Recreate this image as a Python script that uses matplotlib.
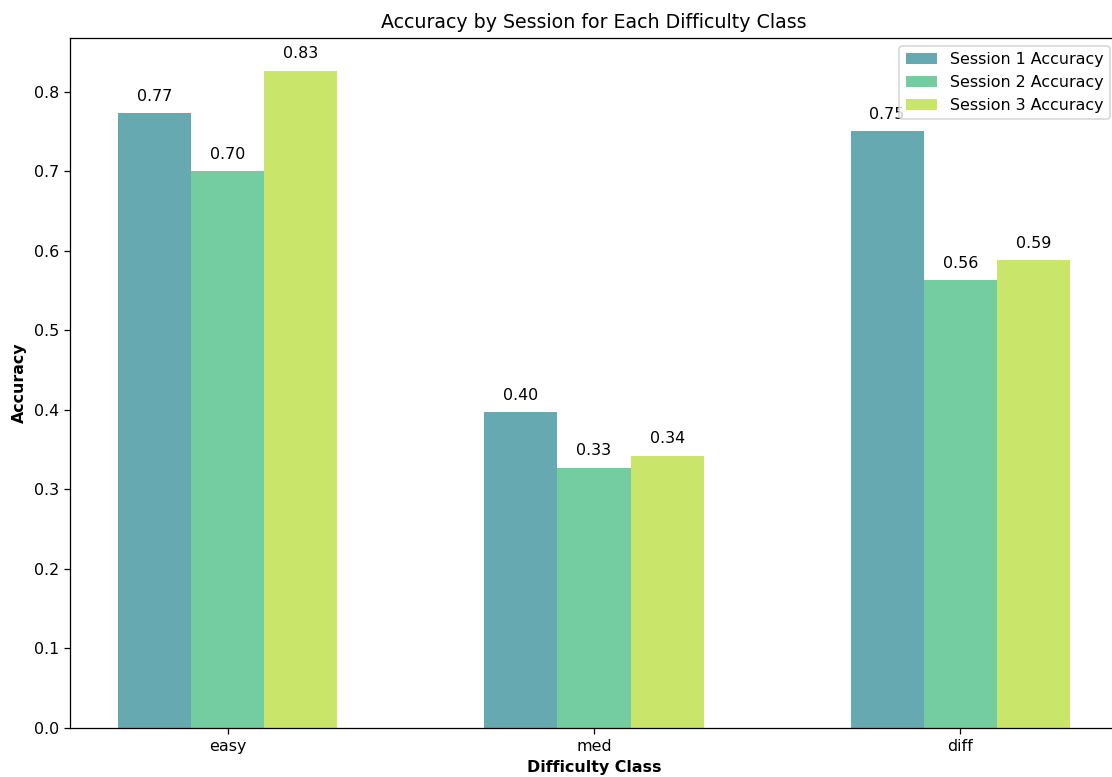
import numpy as np
import matplotlib
matplotlib.use('Agg')
import matplotlib.pyplot as plt

classes = ["easy", "med", "diff"]
session1 = [0.773, 0.397, 0.750]
session2 = [0.700, 0.327, 0.563]
session3 = [0.826, 0.342, 0.588]
labels = ["Session 1 Accuracy", "Session 2 Accuracy", "Session 3 Accuracy"]
colors = ["#67a9b1", "#73cda0", "#c9e66a"]

# rendered a bit larger than 100 dpi so text matches the reference scale
dpi = 114
fig = plt.figure(figsize=(1112/dpi, 777/dpi), dpi=dpi)
ax = fig.add_axes([70/1112, 49/777, 1048/1112, 690/777])

x = np.arange(len(classes))
width = 0.2
for i, vals in enumerate([session1, session2, session3]):
    bars = ax.bar(x + (i-1)*width, vals, width, label=labels[i], color=colors[i])
    for b in bars:
        h = b.get_height()
        ax.annotate("{:.2f}".format(h), xy=(b.get_x()+b.get_width()/2, h),
                    xytext=(0, 6), textcoords="offset points",
                    ha="center", va="bottom")

ax.set_xticks(x)
ax.set_xticklabels(classes)
ax.set_xlabel("Difficulty Class", fontweight="bold")
ax.set_ylabel("Accuracy", fontweight="bold")
ax.set_title("Accuracy by Session for Each Difficulty Class")
ax.legend(loc="upper right")

fig.savefig("out.png", dpi=dpi)
